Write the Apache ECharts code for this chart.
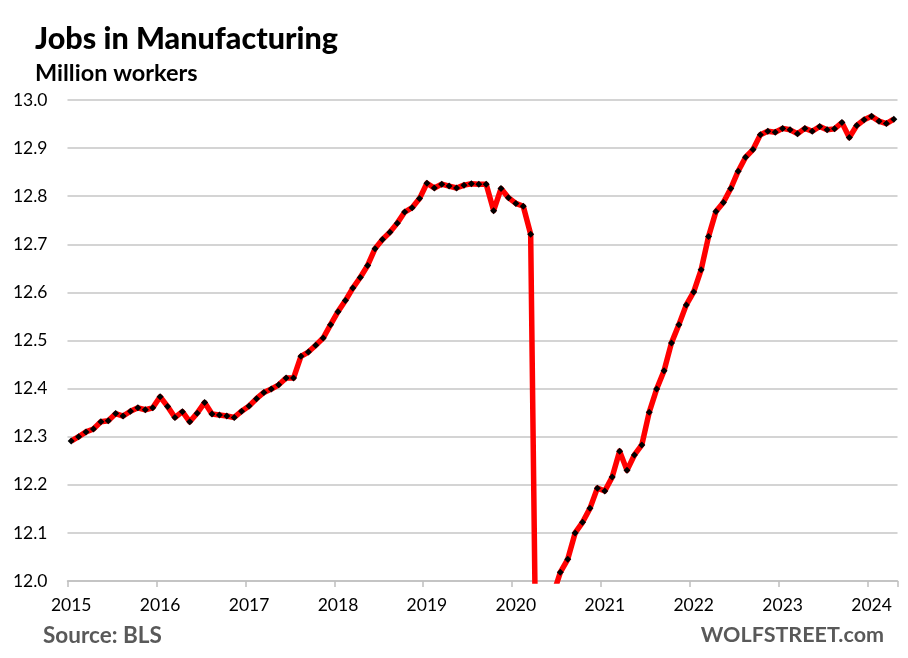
<!DOCTYPE html>
<html>
<head>
<meta charset="utf-8">
<title>Jobs in Manufacturing</title>
<script src="https://cdn.jsdelivr.net/npm/echarts@6/dist/echarts.min.js"></script>
<style>
  html, body { margin: 0; padding: 0; background: #fff; }
  #chart { width: 908px; height: 658px; }
</style>
</head>
<body>
<div id="chart"></div>
<script>
const FONT = "Lato, 'Open Sans', sans-serif";

const YEARS = [2015, 2016, 2017, 2018, 2019, 2020, 2021, 2022, 2023, 2024];
const MONTHS_IN_LAST_YEAR = 4;

// Million workers, monthly from Jan 2015 to Apr 2024
const VALUES_2015 = [12.291, 12.300, 12.310, 12.316, 12.331, 12.333, 12.348, 12.343, 12.353, 12.360, 12.356, 12.360];
const VALUES_2016 = [12.383, 12.363, 12.340, 12.352, 12.331, 12.349, 12.371, 12.347, 12.345, 12.343, 12.340, 12.353];
const VALUES_2017 = [12.364, 12.379, 12.392, 12.399, 12.408, 12.422, 12.422, 12.467, 12.476, 12.490, 12.505, 12.533];
const VALUES_2018 = [12.560, 12.583, 12.609, 12.631, 12.656, 12.691, 12.710, 12.725, 12.744, 12.767, 12.776, 12.795];
const VALUES_2019 = [12.827, 12.817, 12.825, 12.821, 12.817, 12.823, 12.826, 12.825, 12.825, 12.770, 12.816, 12.797];
const VALUES_2020 = [12.785, 12.779, 12.721, 11.450, 11.700, 11.970, 12.018, 12.045, 12.100, 12.122, 12.151, 12.193];
const VALUES_2021 = [12.187, 12.216, 12.270, 12.230, 12.262, 12.283, 12.351, 12.399, 12.437, 12.495, 12.533, 12.574];
const VALUES_2022 = [12.601, 12.647, 12.716, 12.768, 12.787, 12.816, 12.852, 12.881, 12.897, 12.928, 12.935, 12.933];
const VALUES_2023 = [12.941, 12.938, 12.930, 12.941, 12.935, 12.945, 12.938, 12.940, 12.953, 12.922, 12.947, 12.959];
const VALUES_2024 = [12.966, 12.956, 12.951, 12.960];

const values = [
  ...VALUES_2015, ...VALUES_2016, ...VALUES_2017, ...VALUES_2018, ...VALUES_2019,
  ...VALUES_2020, ...VALUES_2021, ...VALUES_2022, ...VALUES_2023, ...VALUES_2024,
];

const categories = [];
for (const year of YEARS) {
  const months = year === 2024 ? MONTHS_IN_LAST_YEAR : 12;
  for (let m = 1; m <= months; m++) {
    categories.push(`${year}-${m}`);
  }
}

const chart = echarts.init(document.getElementById("chart"), undefined, { renderer: "canvas" });

chart.setOption({
  animation: false,
  backgroundColor: "#fff",
  textStyle: { fontFamily: FONT },
  grid: { left: 67.5, right: 10.5, top: 100, bottom: 77, containLabel: false },
  graphic: [
    {
      type: "text", left: 35, top: 24,
      style: { text: "Jobs in Manufacturing", fontFamily: FONT, fontWeight: 900, fontSize: 30.5, fill: "#000" },
    },
    {
      type: "text", left: 35, top: 61,
      style: { text: "Million workers", fontFamily: FONT, fontWeight: 700, fontSize: 23.5, fill: "#000" },
    },
    {
      type: "text", left: 43, top: 624,
      style: { text: "Source: BLS", fontFamily: FONT, fontWeight: 700, fontSize: 22.5, fill: "#595959" },
    },
    {
      type: "text", right: 24, top: 624,
      style: { text: "WOLFSTREET.com", fontFamily: FONT, fontWeight: 700, fontSize: 21.5, fill: "#595959" },
    },
  ],
  xAxis: {
    type: "category",
    data: categories,
    boundaryGap: true,
    axisLine: { show: true, lineStyle: { color: "#bfbfbf", width: 1.5 } },
    axisTick: { show: true, interval: 11, length: 6, lineStyle: { color: "#bfbfbf", width: 1.5 } },
    axisLabel: {
      interval: 11,
      margin: 15,
      fontSize: 17.5,
      color: "#000",
      fontFamily: FONT,
      formatter: (value) => value.split("-")[0],
    },
  },
  yAxis: {
    type: "value",
    min: 12,
    max: 13,
    interval: 0.1,
    axisLine: { show: false },
    axisTick: { show: false },
    axisLabel: {
      margin: 20,
      fontSize: 17.5,
      color: "#000",
      fontFamily: FONT,
      formatter: (value) => value.toFixed(1),
    },
    splitLine: { show: true, lineStyle: { color: "#d4d4d4", width: 2 } },
  },
  series: [
    {
      type: "line",
      data: values,
      clip: true,
      smooth: false,
      showSymbol: true,
      showAllSymbol: true,
      symbol: "diamond",
      symbolSize: 7,
      itemStyle: { color: "#000" },
      lineStyle: { color: "#ff0000", width: 5.5, join: "round" },
    },
  ],
});
</script>
</body>
</html>
